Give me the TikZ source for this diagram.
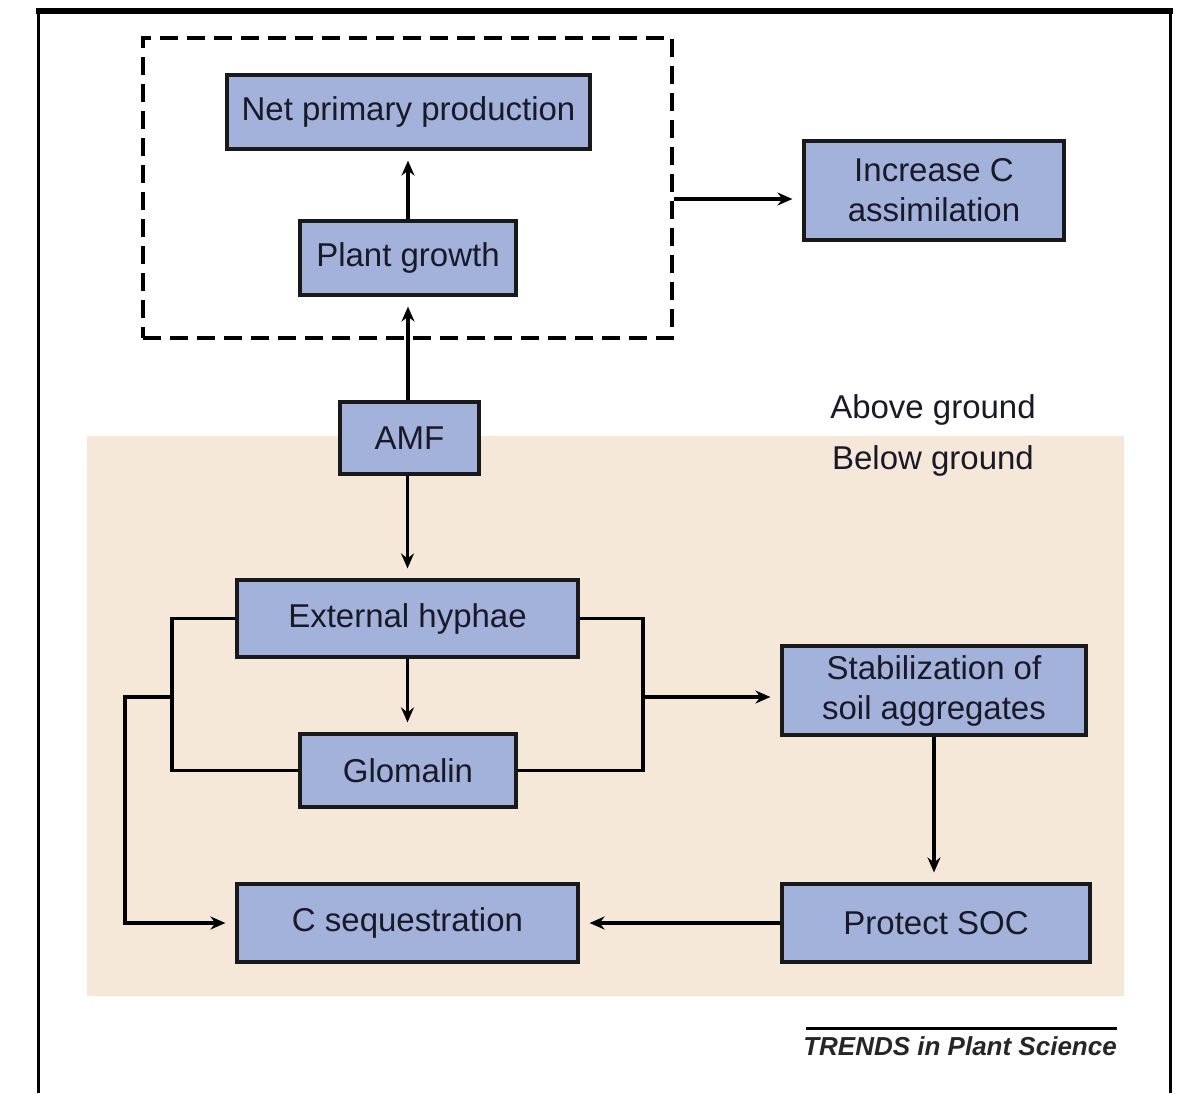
\documentclass[tikz,border=0pt]{standalone}
\usepackage{fontspec}
\setmainfont{Liberation Sans}
\usetikzlibrary{arrows.meta,calc}
\definecolor{boxblue}{RGB}{163,178,218}
\definecolor{beige}{RGB}{245,232,216}
\definecolor{boxtext}{RGB}{25,25,40}
\begin{document}
\begin{tikzpicture}[x=1pt,y=-1pt,
  every node/.style={font=\fontsize{33}{40}\selectfont},
  flowbox/.style={draw=black!90,fill=boxblue,line width=3.2pt,inner sep=0pt,align=center,text=boxtext},
  conn/.style={line width=3.2pt,black},
  arr/.style={conn,-{Stealth[length=15pt,width=13pt,inset=5pt]},shorten >=10pt},
  plain/.style={font=\fontsize{33}{40}\selectfont,text=boxtext}]
\useasboundingbox (0,0) rectangle (1177,1093);
% frame
\draw[line width=6pt] (36,11) -- (1173,11);
\draw[line width=3pt] (38.5,11) -- (38.5,1093);
\draw[line width=3pt] (1170,11) -- (1170,1093);
% below-ground background
\fill[beige] (87,436) rectangle (1124,996);
% dashed group
\node[draw,dash pattern=on 18pt off 9pt,line width=3.2pt,minimum width=529pt,minimum height=300pt,inner sep=0pt] (plantbox) at (407.5,188) {};
% boxes
\node[flowbox,minimum width=363pt,minimum height=74pt] (npp) at (408.5,112) {Net primary production};
\node[flowbox,minimum width=216pt,minimum height=74pt] (pg) at (408,258) {Plant growth};
\node[flowbox,minimum width=260pt,minimum height=99pt] (inc) at (934,190.5) {Increase C\\assimilation};
\node[flowbox,minimum width=139pt,minimum height=72pt] (amf) at (409.5,438) {AMF};
\node[flowbox,minimum width=341pt,minimum height=77pt] (eh) at (407.5,618.5) {External hyphae};
\node[flowbox,minimum width=216pt,minimum height=73pt] (glo) at (408,770.5) {Glomalin};
\node[flowbox,minimum width=304pt,minimum height=89pt] (stab) at (934,690.5) {Stabilization of\\soil aggregates};
\node[flowbox,minimum width=308pt,minimum height=78pt] (psoc) at (936,923) {Protect SOC};
\node[flowbox,minimum width=341pt,minimum height=78pt] (cseq) at (407.5,923) {C sequestration};
% labels
\node[plain] (above) at (933,410) {Above ground};
\node[plain] (below) at (933,461) {Below ground};
\node[font=\fontsize{26}{30}\selectfont\itshape\bfseries,text=black!85] (trends) at (960,1046) {TRENDS in Plant Science};
\coordinate (tl) at (806,1028);
\coordinate (tr) at (1117,1028);
\draw[line width=3pt] (tl) -- (tr);
% junction coordinates
\coordinate (jl) at (172,697);
\coordinate (jo) at (125,697);
\coordinate (jr) at (643,697);
% connectors
\draw[arr] (pg.north) -- (pg.north |- npp.south);
\draw[arr] (amf.north -| pg.south) -- (pg.south);
\draw[arr] ([yshift=-11pt]plantbox.east) -- ([yshift=-11pt]plantbox.east -| inc.west);
\draw[arr] (amf.south -| eh.north) -- (eh.north);
\draw[arr] (eh.south) -- (eh.south |- glo.north);
\draw[conn] (eh.west) -| (jl) |- (glo.west);
\draw[conn] (eh.east) -| (jr) |- (glo.east);
\draw[arr] (jl) -- (jo) |- (cseq.west);
\draw[arr] (jr) -- (jr -| stab.west);
\draw[arr] (stab.south) -- (stab.south |- psoc.north);
\draw[arr] (psoc.west) -- (psoc.west -| cseq.east);
\end{tikzpicture}
\end{document}
